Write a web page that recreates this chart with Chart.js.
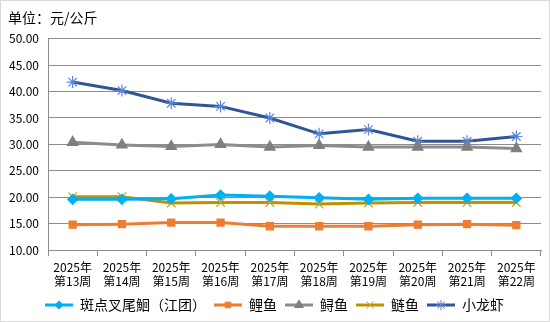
<!DOCTYPE html>
<html>
<head>
<meta charset="utf-8">
<script src="https://cdn.jsdelivr.net/npm/chart.js@4.4.1/dist/chart.umd.min.js"></script>
<style>
  html, body { margin: 0; padding: 0; background: #fff; }
  #wrap { width: 548px; height: 320px; border: 1px solid #d9d9d9; position: relative; }
</style>
</head>
<body>
<div id="wrap"><canvas id="priceChart" width="548" height="320"></canvas></div>
<script>
// week labels (two lines each)
const weeks = ["第13周", "第14周", "第15周", "第16周", "第17周", "第18周", "第19周", "第20周", "第21周", "第22周"];
const yearLabel = "2025年";

// prices, yuan per kg
const channelCatfish = [19.6, 19.6, 19.7, 20.4, 20.2, 19.9, 19.6, 19.8, 19.8, 19.8];
const carp = [14.8, 14.9, 15.2, 15.2, 14.5, 14.5, 14.5, 14.8, 14.9, 14.7];
const sturgeon = [30.4, 29.9, 29.6, 30.0, 29.5, 29.8, 29.5, 29.5, 29.5, 29.2];
const silverCarp = [20.1, 20.1, 18.9, 19.0, 19.0, 18.7, 18.9, 19.0, 19.0, 19.0];
const crayfish = [41.8, 40.2, 37.8, 37.2, 35.0, 32.0, 32.8, 30.6, 30.6, 31.5];

const yTicks = [10, 15, 20, 25, 30, 35, 40, 45, 50];

const FONT = "'Noto Sans CJK SC', 'DejaVu Sans', sans-serif";

// small picture for the legend: line with the marker in the middle
function legendIcon(lineColor, markColor, style, radius) {
  const c = document.createElement("canvas");
  c.width = 28; c.height = 14;
  const ctx = c.getContext("2d");
  ctx.strokeStyle = lineColor;
  ctx.lineWidth = 3;
  ctx.beginPath();
  ctx.moveTo(0, 7); ctx.lineTo(28, 7);
  ctx.stroke();
  ctx.fillStyle = markColor;
  ctx.strokeStyle = markColor;
  ctx.lineWidth = 1;
  Chart.helpers.drawPoint(ctx, {
    pointStyle: style, radius: radius, borderWidth: 1, rotation: 0
  }, 14, 7);
  return c;
}

const series = [
  { label: "斑点叉尾鮰（江团）", data: channelCatfish, color: "#00B0F0", mark: "#00B0F0", style: "rectRot", r: 5 },
  { label: "鲤鱼", data: carp, color: "#ED7D31", mark: "#ED7D31", style: "rect", r: 5 },
  { label: "鲟鱼", data: sturgeon, color: "#8C8C8C", mark: "#7F7F7F", style: "triangle", r: 6 },
  { label: "鲢鱼", data: silverCarp, color: "#BF9000", mark: "#C9A030", style: "crossRot", r: 6 },
  { label: "小龙虾", data: crayfish, color: "#2F5597", mark: "#5B86D6", style: "star", r: 6 }
];

const datasets = series.map(s => ({
  label: s.label,
  data: s.data,
  borderColor: s.color,
  borderWidth: 3,
  backgroundColor: s.mark,
  pointBackgroundColor: s.mark,
  pointBorderColor: s.mark,
  pointBorderWidth: 1.2,
  pointStyle: s.style,
  pointRadius: s.r,
  tension: 0,
  fill: false
}));

const ctx = document.getElementById("priceChart").getContext("2d");
const priceChart = new Chart(ctx, {
  type: "line",
  data: {
    labels: weeks.map(w => [yearLabel, w]),
    datasets: datasets
  },
  options: {
    responsive: false,
    animation: false,
    layout: { padding: { left: 7, right: 8, top: 0, bottom: -1 } },
    scales: {
      x: {
        offset: true,
        afterFit: scale => { scale.height = 40; },
        grid: {
          offset: true,
          drawOnChartArea: false,
          drawTicks: true,
          tickLength: 6,
          color: "#8c8c8c"
        },
        border: { color: "#8c8c8c" },
        ticks: {
          color: "#000",
          font: { family: FONT, size: 12, lineHeight: 1.17 },
          padding: 4,
          maxRotation: 0,
          autoSkip: false
        }
      },
      y: {
        min: 10,
        max: 50,
        afterBuildTicks: scale => { scale.ticks = yTicks.map(v => ({ value: v })); },
        afterFit: scale => { scale.width = 40; },
        grid: { color: "#8c8c8c", drawTicks: false },
        border: { color: "#8c8c8c" },
        ticks: {
          color: "#000",
          padding: 9,
          font: { family: FONT, size: 12 },
          callback: v => v.toFixed(2)
        }
      }
    },
    plugins: {
      title: {
        display: true,
        text: "单位：元/公斤",
        align: "start",
        color: "#000",
        font: { family: FONT, size: 14, weight: "normal" },
        padding: { top: 8, bottom: 13 }
      },
      legend: {
        position: "bottom",
        labels: {
          color: "#000",
          font: { family: FONT, size: 14 },
          usePointStyle: true,
          pointStyleWidth: 28,
          padding: 8,
          generateLabels: chart => series.map((s, i) => ({
            text: s.label,
            datasetIndex: i,
            pointStyle: legendIcon(s.color, s.mark, s.style, s.r - 1),
            fillStyle: s.mark,
            strokeStyle: s.mark,
            lineWidth: 0,
            hidden: false
          }))
        }
      },
      tooltip: { enabled: false }
    }
  }
});
</script>
</body>
</html>
